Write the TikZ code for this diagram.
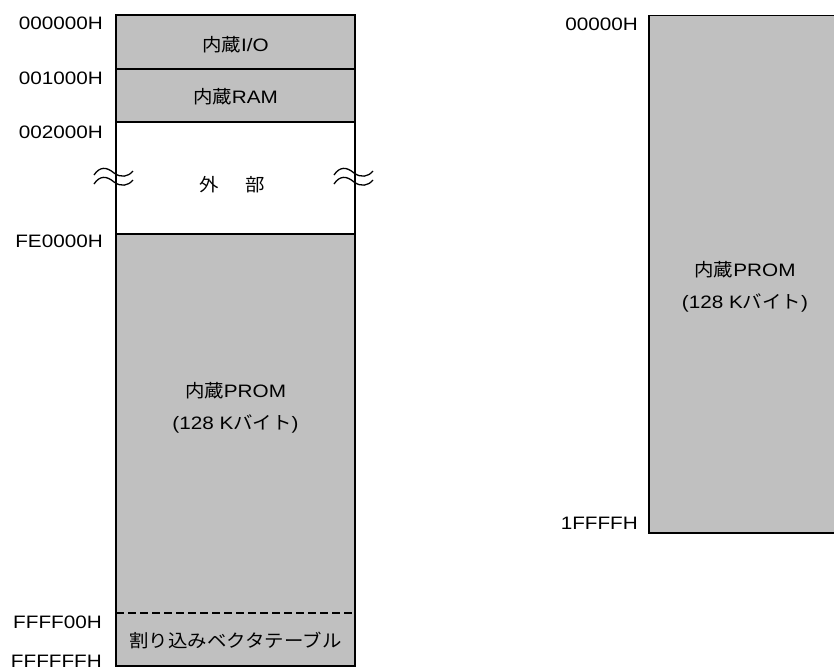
\documentclass[tikz,border=0pt]{standalone}
\usepackage{fontspec}
\setmainfont{Liberation Sans}[FakeStretch=1.15]
\newfontfamily\jp{Noto Sans CJK JP}[FakeStretch=1.08]
\definecolor{memgray}{HTML}{C0C0C0}
\tikzset{
  box/.style={line width=1.8pt, draw=black},
  sep/.style={line width=1.6pt},
  addr/.style={anchor=base east, inner sep=0pt, font=\fontsize{18}{20}\selectfont},
  lbl/.style={inner sep=0pt, font=\fontsize{18}{20}\selectfont},
  wave/.style={line width=1.3pt}
}
\begin{document}
\begin{tikzpicture}[x=1pt,y=-1pt]
\useasboundingbox (0,0) rectangle (834,670);
% left map
\fill[memgray] (116,15) rectangle (355,122);
\fill[memgray] (116,234) rectangle (355,666);
\draw[sep] (116,69) -- (355,69);
\draw[sep] (116,122) -- (355,122);
\draw[sep] (116,234) -- (355,234);
\draw[line width=1.4pt, dash pattern=on 8pt off 4pt] (116,613) -- (355,613);
\draw[box] (116,15) rectangle (355,666);
% right map
\fill[memgray] (649,15.5) rectangle (845,533);
\draw[box] (845,15.5) -- (649,15.5) -- (649,533) -- (845,533);
% contents
\node[lbl] (io) at (235.5,45) {{\jp 内蔵}I/O};
\node[lbl] (ram) at (235.5,97) {{\jp 内蔵}RAM};
\node[lbl] (ext1) at (209,185) {\jp 外};
\node[lbl] (ext2) at (255,185) {\jp 部};
\node[lbl] (prom1) at (235.5,391) {{\jp 内蔵}PROM};
\node[lbl] (prom2) at (235.5,424) {(128 K{\jp バイト})};
\node[lbl] (vec) at (235.5,640) {\jp 割り込みベクタテーブル};
\node[lbl] (rprom1) at (745,270) {{\jp 内蔵}PROM};
\node[lbl] (rprom2) at (745,303) {(128 K{\jp バイト})};
% addresses
\node[addr] (a0) at (103,29) {000000H};
\node[addr] (a1) at (103,84) {001000H};
\node[addr] (a2) at (103,138) {002000H};
\node[addr] (a3) at (103,247) {FE0000H};
\node[addr] (a4) at (102,628) {FFFF00H};
\node[addr] (a5) at (102,667.5) {FFFFFFH};
\node[addr] (b0) at (638,30) {00000H};
\node[addr] (b1) at (638,529) {1FFFFH};
% break marks
\foreach \xo in {0,240}{
  \foreach \yo in {0,9}{
    \draw[wave] (94+\xo,175+\yo) .. controls (100+\xo,166+\yo) and (107+\xo,167+\yo) .. (114+\xo,173+\yo)
      .. controls (121+\xo,178+\yo) and (128+\xo,177+\yo) .. (133+\xo,171+\yo);
  }
}
\end{tikzpicture}
\end{document}
